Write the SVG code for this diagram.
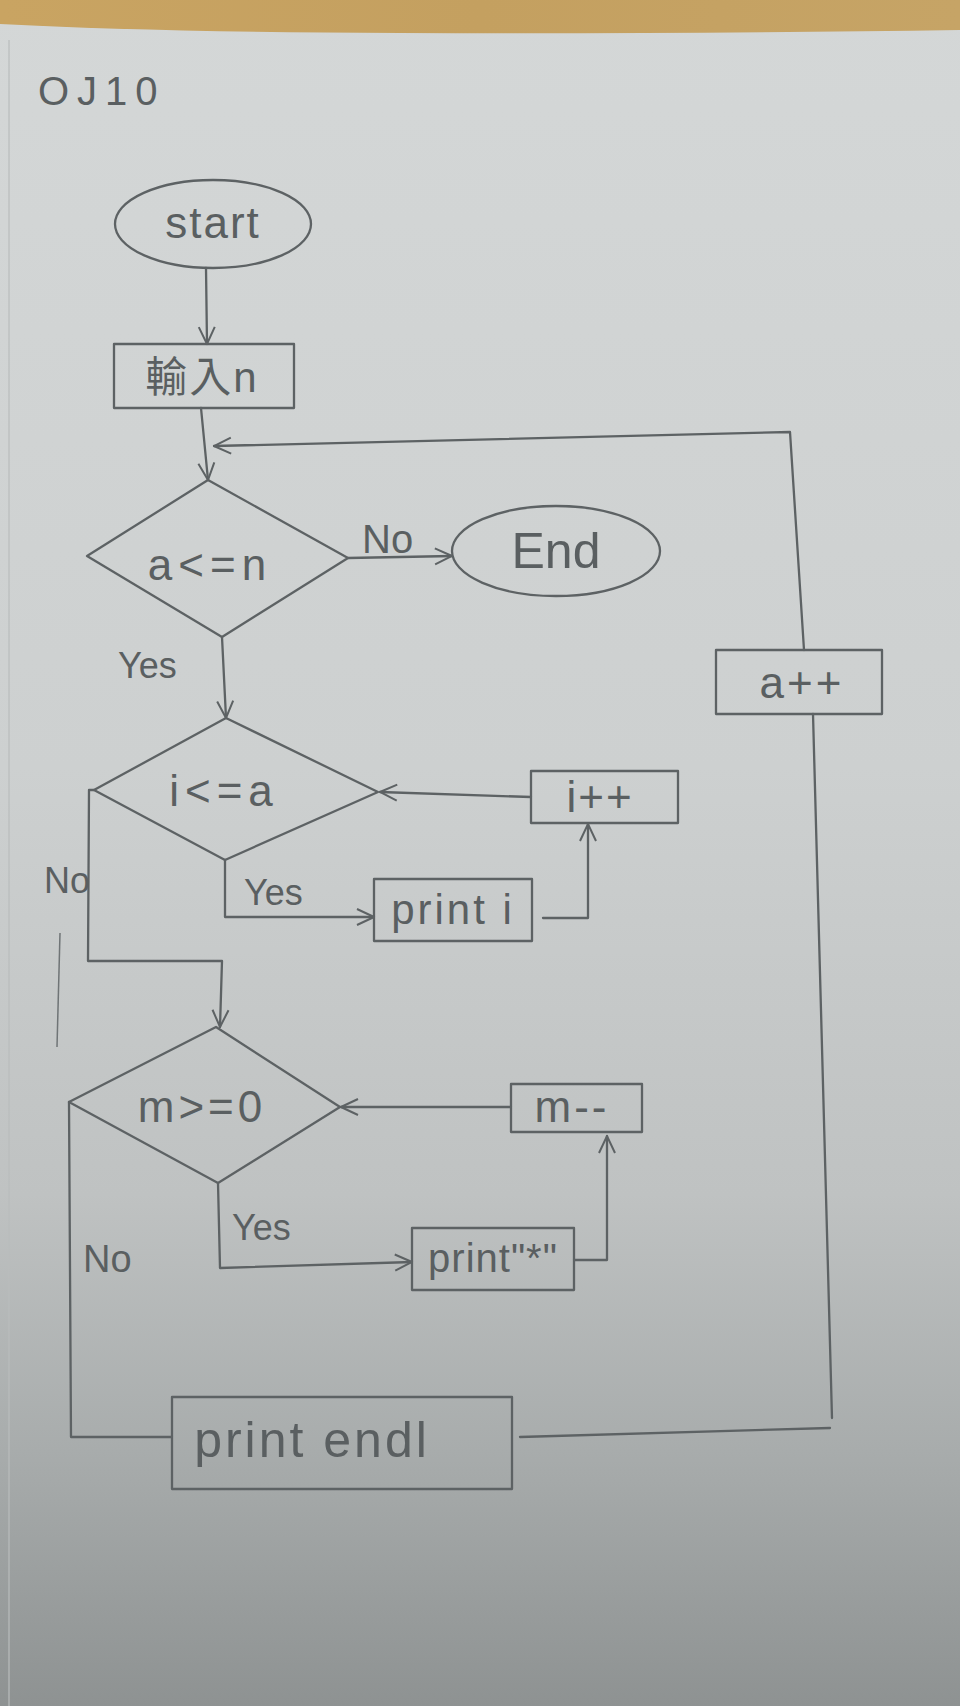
<svg xmlns="http://www.w3.org/2000/svg" width="960" height="1706" viewBox="0 0 960 1706">
  <defs>
    <linearGradient id="paper" x1="0" y1="0" x2="0" y2="1">
      <stop offset="0" stop-color="#d4d7d7"/>
      <stop offset="0.45" stop-color="#cdd0d0"/>
      <stop offset="0.7" stop-color="#bfc2c2"/>
      <stop offset="0.85" stop-color="#a8acac"/>
      <stop offset="1" stop-color="#8e9292"/>
    </linearGradient>
    <linearGradient id="wood" x1="0" y1="0" x2="1" y2="0">
      <stop offset="0" stop-color="#c9a462"/>
      <stop offset="0.5" stop-color="#c4a060"/>
      <stop offset="1" stop-color="#c6a466"/>
    </linearGradient>
    <marker id="arr" viewBox="0 0 20 20" refX="19" refY="10" markerWidth="20" markerHeight="20" markerUnits="userSpaceOnUse" orient="auto">
      <path d="M2,2 L19,10 L2,18" fill="none" stroke="#5d6264" stroke-width="2"/>
    </marker>
    <style>
      .ln{fill:none;stroke:#5d6264;stroke-width:2.3;stroke-linecap:round;stroke-linejoin:round}
      .sh{fill:none;stroke:#5d6264;stroke-width:2.3;stroke-linejoin:round}
      .tx{font-family:"Liberation Sans","Noto Sans CJK TC",sans-serif;fill:#5a5f61;text-anchor:middle}
      .lb{font-family:"Liberation Sans",sans-serif;fill:#5a5f61;font-size:36px}
    </style>
  </defs>

  <!-- background -->
  <rect x="0" y="0" width="960" height="1706" fill="url(#paper)"/>
  <path d="M0,0 H960 V30 Q700,34 400,33 Q150,32 0,24 Z" fill="url(#wood)"/>
  <line x1="9" y1="40" x2="9" y2="1706" stroke="#b9bcbc" stroke-width="1.2"/>
  <line x1="60" y1="933" x2="57" y2="1047" stroke="#6f7476" stroke-width="1.5"/>

  <text class="lb" x="38" y="105" style="font-size:40px;letter-spacing:8px">OJ10</text>

  <g id="start">
    <ellipse class="sh" cx="213" cy="224" rx="98" ry="44"/>
    <text class="tx" x="213" y="238" font-size="44" style="letter-spacing:2px">start</text>
  </g>

  <g id="input">
    <rect class="sh" x="114" y="344" width="180" height="64"/>
    <text class="tx" x="202" y="392" font-size="42" style="letter-spacing:2px">輸入n</text>
  </g>

  <g id="cond_a">
    <polygon class="sh" points="208,480 348,558 222,637 87,556"/>
    <text class="tx" x="210" y="580" font-size="44" style="letter-spacing:6px">a&lt;=n</text>
  </g>

  <g id="end">
    <ellipse class="sh" cx="556" cy="551" rx="104" ry="45"/>
    <text class="tx" x="556" y="568" font-size="50">End</text>
  </g>

  <g id="cond_i">
    <polygon class="sh" points="226,718 378,792 225,860 94,790"/>
    <text class="tx" x="224" y="806" font-size="44" style="letter-spacing:6px">i&lt;=a</text>
  </g>

  <g id="inc_i">
    <rect class="sh" x="531" y="771" width="147" height="52"/>
    <text class="tx" x="600" y="812" font-size="44" style="letter-spacing:2px">i++</text>
  </g>

  <g id="print_i">
    <rect class="sh" x="374" y="879" width="158" height="62"/>
    <text class="tx" x="453" y="924" font-size="42" style="letter-spacing:3px">print i</text>
  </g>

  <g id="cond_m">
    <polygon class="sh" points="216,1027 340,1107 218,1183 69,1102"/>
    <text class="tx" x="202" y="1122" font-size="44" style="letter-spacing:4px">m&gt;=0</text>
  </g>

  <g id="dec_m">
    <rect class="sh" x="511" y="1084" width="131" height="48"/>
    <text class="tx" x="572" y="1122" font-size="44" style="letter-spacing:3px">m--</text>
  </g>

  <g id="print_star">
    <rect class="sh" x="412" y="1228" width="162" height="62"/>
    <text class="tx" x="493" y="1272" font-size="40" style="letter-spacing:1px">print"*"</text>
  </g>

  <g id="print_endl">
    <rect class="sh" x="172" y="1397" width="340" height="92"/>
    <text class="tx" x="312" y="1457" font-size="50" style="letter-spacing:3px">print endl</text>
  </g>

  <g id="inc_a">
    <rect class="sh" x="716" y="650" width="166" height="64"/>
    <text class="tx" x="802" y="698" font-size="44" style="letter-spacing:3px">a++</text>
  </g>

  <g id="connectors">
    <path class="ln" d="M206,268 L207,344" marker-end="url(#arr)"/>
    <path class="ln" d="M201,408 L208,480" marker-end="url(#arr)"/>
    <path class="ln" d="M804,650 L790,432 L214,446" marker-end="url(#arr)"/>
    <path class="ln" d="M348,558 L452,556" marker-end="url(#arr)"/>
    <path class="ln" d="M222,637 L226,718" marker-end="url(#arr)"/>
    <path class="ln" d="M531,797 L380,792" marker-end="url(#arr)"/>
    <path class="ln" d="M225,860 L225,917 L374,917" marker-end="url(#arr)"/>
    <path class="ln" d="M543,918 L588,918 L588,824" marker-end="url(#arr)"/>
    <path class="ln" d="M94,790 L89,790 L88,961 L222,961 L220,1027" marker-end="url(#arr)"/>
    <path class="ln" d="M511,1107 L341,1107" marker-end="url(#arr)"/>
    <path class="ln" d="M218,1183 L220,1268 L412,1262" marker-end="url(#arr)"/>
    <path class="ln" d="M574,1260 L607,1260 L607,1136" marker-end="url(#arr)"/>
    <path class="ln" d="M69,1102 L71,1437 L172,1437"/>
    <path class="ln" d="M520,1437 L830,1428"/>
    <path class="ln" d="M832,1418 L813,714"/>
    <text class="lb" x="362" y="553" style="font-size:40px">No</text>
    <text class="lb" x="118" y="678" style="font-size:36px">Yes</text>
    <text class="lb" x="244" y="905" style="font-size:36px">Yes</text>
    <text class="lb" x="44" y="893" style="font-size:36px">No</text>
    <text class="lb" x="232" y="1240" style="font-size:36px">Yes</text>
    <text class="lb" x="83" y="1272" style="font-size:38px">No</text>
  </g>
</svg>
